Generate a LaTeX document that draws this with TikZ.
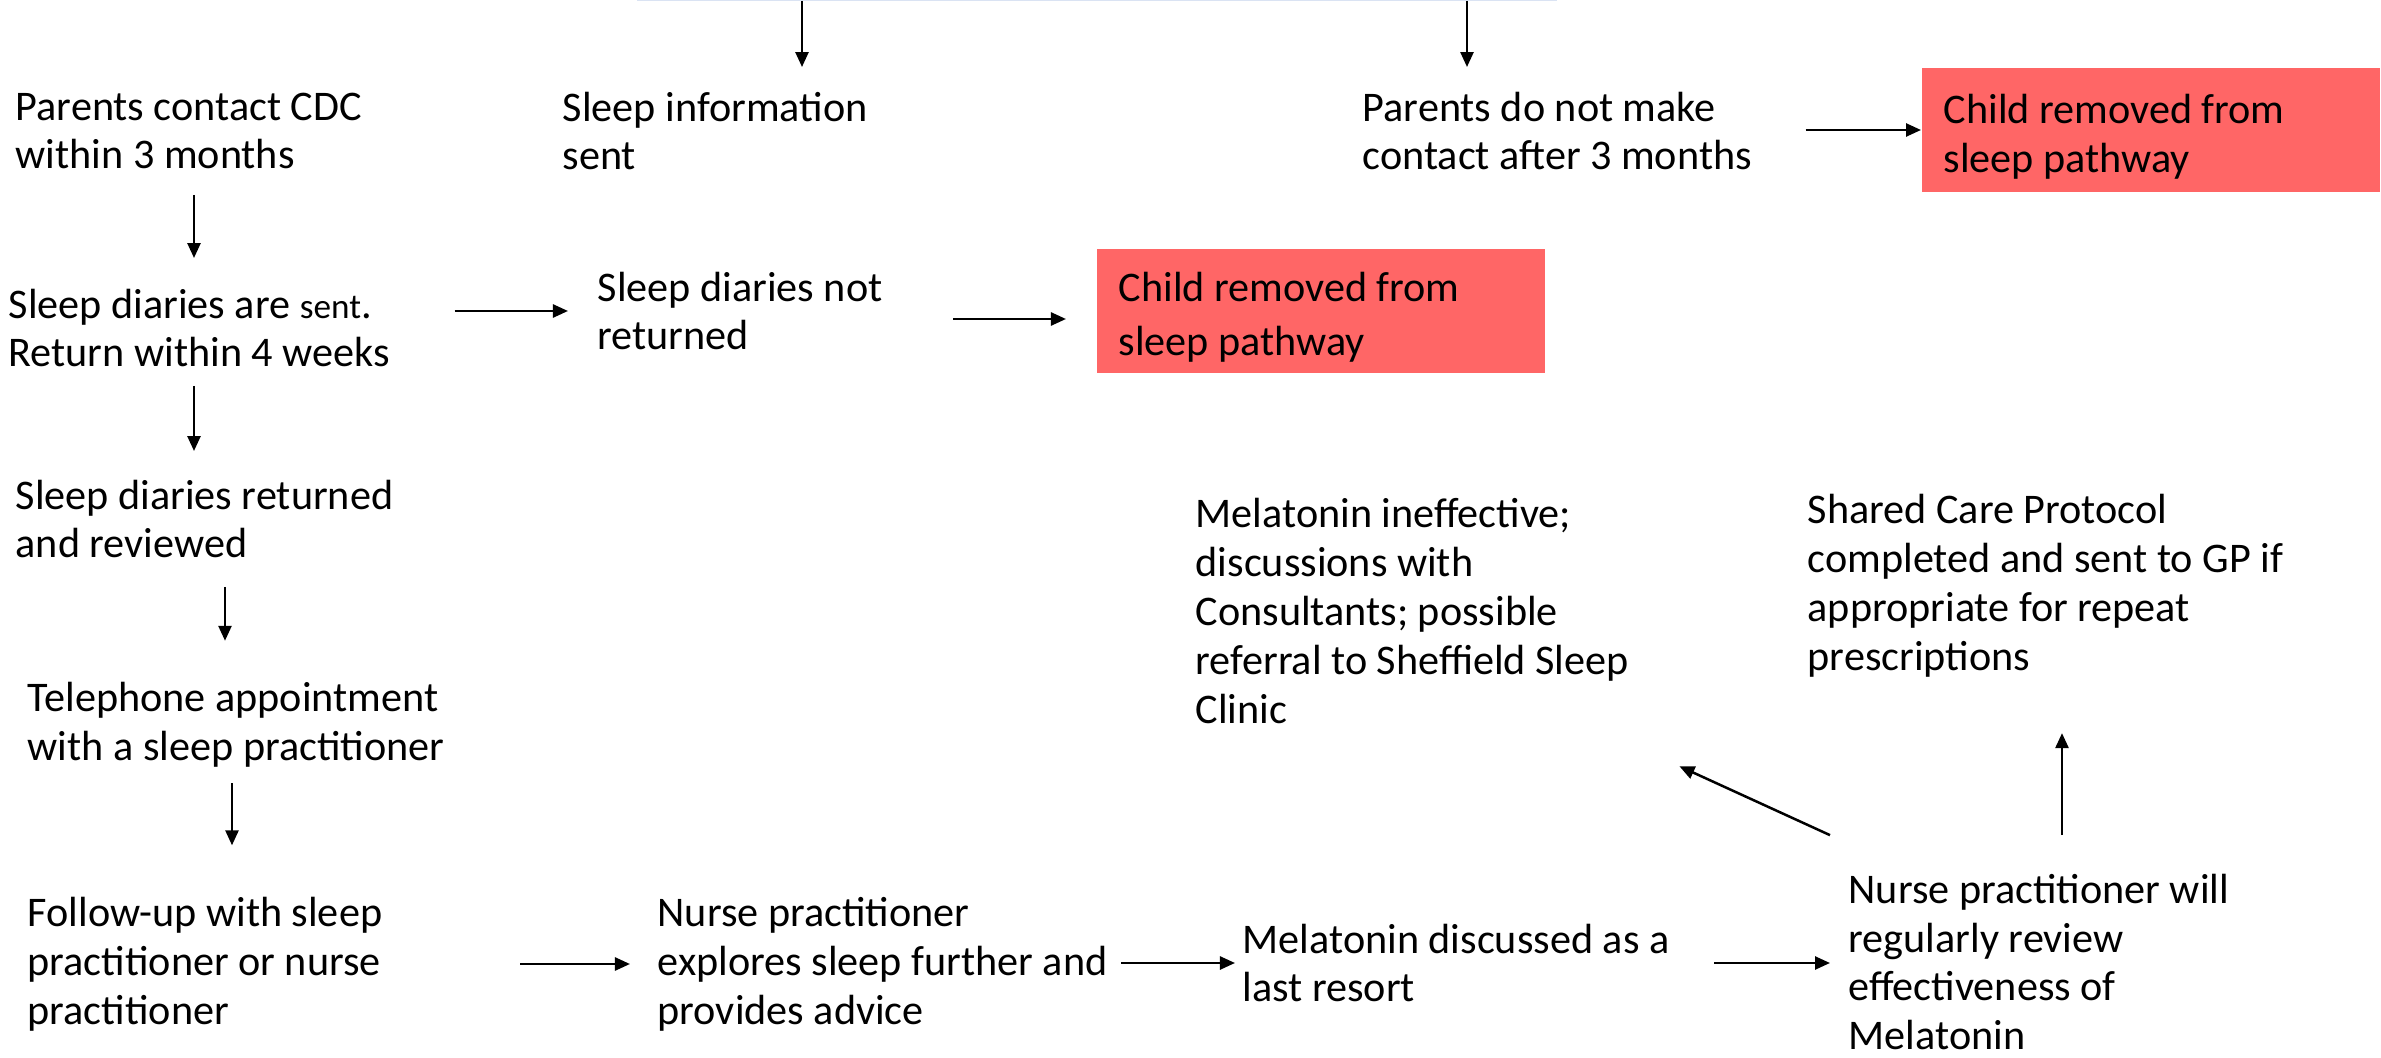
\documentclass[tikz,border=0pt]{standalone}
\usepackage{fontspec}
\setmainfont{Carlito}
\usetikzlibrary{arrows.meta}

\definecolor{removed}{RGB}{255,102,102}
\definecolor{srcline}{RGB}{218,227,243}

\tikzset{
  txt/.style={anchor=west, inner sep=0pt, align=left, font=\fontsize{12}{13.9}\selectfont},
  redbox/.style={txt, align=flush left, fill=removed, inner xsep=0.22cm, minimum height=1.23cm},
  arr/.style={-{Triangle[length=0.15cm,width=0.13cm]}, line width=0.025cm},
  srcbox/.style={draw=srcline, line width=0.02cm, minimum width=9.18cm, minimum height=1cm, anchor=south}
}

\begin{document}
\begin{tikzpicture}[x=0.01cm, y=-0.01cm]
  \useasboundingbox (0,0) rectangle (2381,1058);

  % Box above the page edge
  \node[srcbox] (src) at (1097,1) {};

  % Top row
  \node[txt] (cdc) at (15,131) {Parents contact CDC\\within 3 months};
  \node[txt] (info) at (562,131) {Sleep information\\sent};
  \node[txt] (nocont) at (1362,131) {Parents do not make\\contact after 3 months};
  \node[redbox, text width=4.14cm] (red1) at (1921,130) {\rule{0pt}{0.42cm}Child removed from\\sleep pathway};

  % Sleep diaries
  \node[txt] (diar) at (8,328) {Sleep diaries are {\fontsize{10}{13.9}\selectfont sent}.\\Return within 4 weeks};
  \node[txt] (notret) at (597,311) {Sleep diaries not\\returned};
  \node[redbox, text width=4.04cm, font=\fontsize{12}{15.2}\selectfont] (red2) at (1096,311) {\rule{0pt}{0.42cm}Child removed from\\sleep pathway};

  % Left column
  \node[txt] (revw) at (15,519) {Sleep diaries returned\\and reviewed};
  \node[txt] (tel) at (27,725) {Telephone appointment\\with a sleep practitioner};
  \node[txt] (foll) at (27,964) {Follow-up with sleep\\practitioner or nurse\\practitioner};

  % Bottom row
  \node[txt] (nurse) at (657,964) {Nurse practitioner\\explores sleep further and\\provides advice};
  \node[txt] (melad) at (1242,963) {Melatonin discussed as a\\last resort};
  \node[txt] (rev) at (1848,962) {Nurse practitioner will\\regularly review\\effectiveness of\\Melatonin};

  % Outcomes of the review
  \node[txt] (inef) at (1195,611) {Melatonin ineffective;\\discussions with\\Consultants; possible\\referral to Sheffield Sleep\\Clinic};
  \node[txt] (shared) at (1807,586) {Shared Care Protocol\\completed and sent to GP if\\appropriate for repeat\\prescriptions};

  % Arrows
  \draw[arr, shorten >=0.24cm] (src.south-|802,0) -- (info.north-|802,0);
  \draw[arr, shorten >=0.24cm] (src.south-|1467,0) -- (nocont.north-|1467,0);
  \draw[arr, shorten <=0.53cm] (red1.west-|nocont.east) -- (red1.west);
  \draw[arr, shorten <=0.25cm, shorten >=0.30cm] (cdc.south-|194,0) -- (diar.north-|194,0);
  \draw[arr, shorten <=0.64cm, shorten >=0.29cm] (notret.west-|diar.east) -- (notret.west);
  \draw[arr, shorten <=0.70cm, shorten >=0.30cm] ([yshift=-0.08cm]red2.west-|notret.east) -- ([yshift=-0.08cm]red2.west);
  \draw[arr, shorten <=0.18cm, shorten >=0.28cm] (diar.south-|194,0) -- (revw.north-|194,0);
  \draw[arr, shorten <=0.28cm, shorten >=0.41cm] (revw.south-|225,0) -- (tel.north-|225,0);
  \draw[arr, shorten <=0.15cm, shorten >=0.51cm] (tel.south-|232,0) -- (foll.north-|232,0);
  \draw[arr, shorten <=1.37cm, shorten >=0.27cm] (nurse.west-|foll.east) -- (nurse.west);
  \draw[arr, shorten <=0.13cm, shorten >=0.07cm] (melad.west-|nurse.east) -- (melad.west);
  \draw[arr, shorten <=0.44cm, shorten >=0.18cm] (melad.east) -- (melad.east-|rev.west);
  \draw[arr] ([xshift=-0.18cm,yshift=0.38cm]rev.north west) -- ([xshift=0.50cm,yshift=-0.42cm]inef.south east);
  \draw[arr, shorten <=0.38cm, shorten >=0.55cm] (rev.north-|2062,0) -- (shared.south-|2062,0);
\end{tikzpicture}
\end{document}
